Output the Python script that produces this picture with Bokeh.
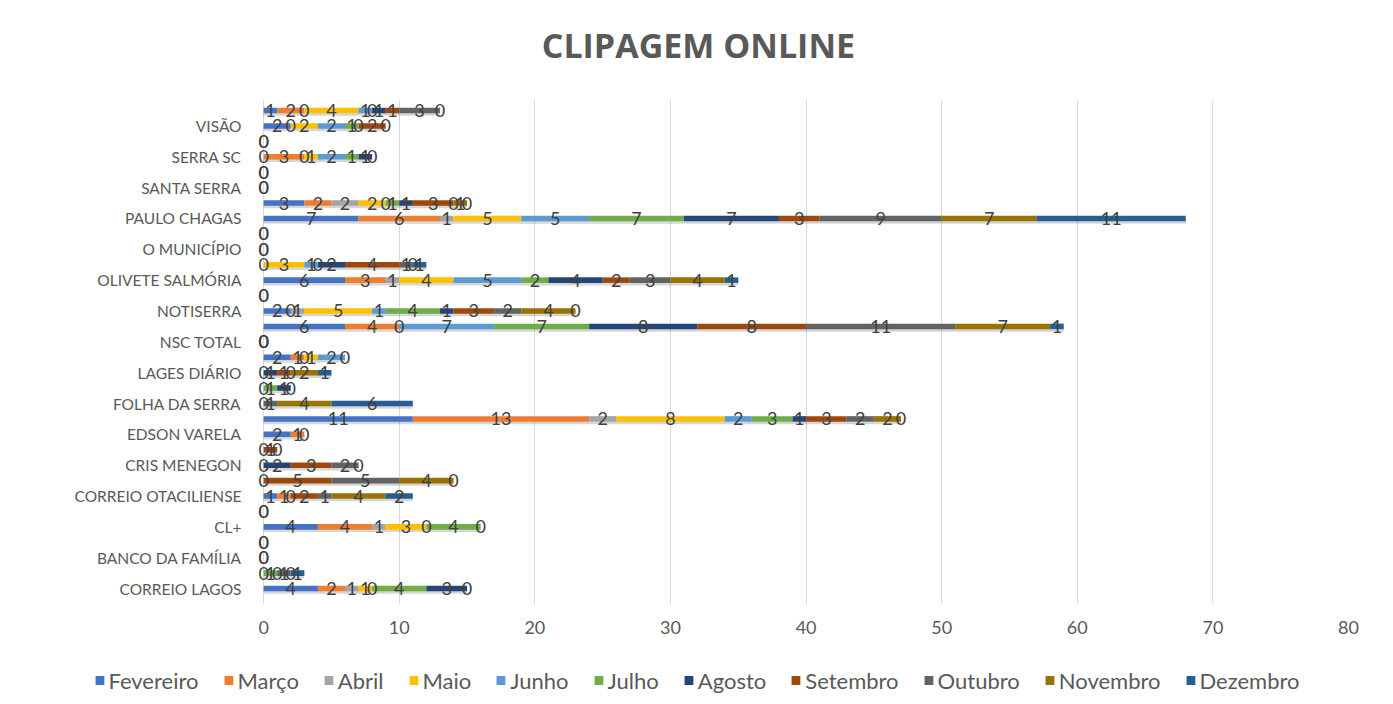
import numpy as np
from bokeh.plotting import figure
from bokeh.layouts import column
from bokeh.models import ColumnDataSource, FixedTicker, Range1d, Legend, LegendItem, Label
from bokeh.embed import file_html
from bokeh.resources import INLINE
from bokeh.core.properties import value

N = None  # blank cell (no data label)

# 32 categories, bottom to top; only every other name is shown on the axis
category_labels = [
    "CORREIO LAGOS", "", "BANCO DA FAMÍLIA", "", "CL+", "", "CORREIO OTACILIENSE", "",
    "CRIS MENEGON", "", "EDSON VARELA", "", "FOLHA DA SERRA", "", "LAGES DIÁRIO", "",
    "NSC TOTAL", "", "NOTISERRA", "", "OLIVETE SALMÓRIA", "", "O MUNICÍPIO", "",
    "PAULO CHAGAS", "", "SANTA SERRA", "", "SERRA SC", "", "VISÃO", "",
]

months = ["Fevereiro", "Março", "Abril", "Maio", "Junho", "Julho",
          "Agosto", "Setembro", "Outubro", "Novembro", "Dezembro"]

fevereiro = [4, 0, N, N, 4, N, 1, N, N, N, 2, 11, N, N, N, 2, N, 6, 2, N, 6, N, N, N, 7, 3, N, N, 0, N, 2, 1]
marco     = [2, N, N, N, 4, N, 1, N, N, N, 1, 13, N, N, N, 1, N, 4, 0, N, 3, N, N, N, 6, 2, N, N, 3, N, 0, 2]
abril     = [1, N, N, N, 1, N, 0, N, N, N, 0, 2, N, N, N, 0, N, 0, 1, N, 1, 0, N, N, 1, 2, N, N, 0, N, N, 0]
maio      = [1, N, N, N, 3, N, N, N, N, N, N, 8, N, N, N, 1, N, N, 5, 0, 4, 3, N, N, 5, 2, N, N, 1, N, 2, 4]
junho     = [0, N, N, N, 0, N, N, N, N, N, N, 2, N, 0, N, 2, N, 7, 1, 0, 5, 1, 0, N, 5, 0, N, N, 2, N, 2, 1]
julho     = [4, 1, N, N, 4, 0, N, N, 0, N, N, 3, N, 1, 0, 0, 0, 7, 4, N, 2, 0, 0, N, 7, 1, N, N, 1, N, 1, 0]
agosto    = [3, 0, N, N, 0, 0, N, 0, 2, 0, N, 1, N, 1, 1, N, N, 8, 1, N, 4, 2, N, 0, 7, 1, N, 0, 1, 0, 0, 1]
setembro  = [0, N, 0, N, N, N, 2, 5, 3, 1, N, 3, 0, 0, 1, N, N, 8, 3, N, 2, 4, N, 0, 3, 3, 0, 0, 0, 0, 2, 1]
outubro   = [N, 1, 0, N, N, N, 1, 5, 2, 0, N, 2, 1, N, 0, N, 0, 11, 2, N, 3, 1, N, N, 9, 0, 0, N, N, N, 0, 3]
novembro  = [N, 0, N, 0, N, N, 4, 4, 0, N, N, 2, 4, N, 2, N, 0, 7, 4, N, 4, 0, N, N, 7, 1, N, N, N, N, N, 0]
dezembro  = [N, 1, N, 0, N, N, 2, 0, N, N, N, 0, 6, N, 1, N, N, 1, 0, N, 1, 1, N, N, 11, 0, N, N, N, N, N, N]

series = [fevereiro, marco, abril, maio, junho, julho, agosto, setembro, outubro, novembro, dezembro]
colors = ["#4472C4", "#ED7D31", "#A5A5A5", "#FFC000", "#5B9BD5", "#70AD47",
          "#264478", "#9E480E", "#636363", "#997300", "#255E91"]

x_ticks = [0, 10, 20, 30, 40, 50, 60, 70, 80]
title_text = "CLIPAGEM ONLINE"

FONT = "Lato"
TXT = "#595959"

n = len(category_labels)
rows = np.arange(n)


def bare(fig):
    fig.outline_line_color = None
    fig.xgrid.visible = False
    fig.ygrid.visible = False
    fig.frame_align = False
    return fig


# ---- title strip
tf = bare(figure(width=1393, height=70, output_backend="svg", toolbar_location=None,
                 x_range=Range1d(0, 1), y_range=Range1d(0, 1), x_axis_type=None, y_axis_type=None,
                 min_border_left=0, min_border_right=0, min_border_top=0, min_border_bottom=0))
tf.add_layout(Label(x=0.501, y=0.36, text=title_text, text_align="center", text_baseline="middle",
                    text_font="Open Sans", text_font_style="bold", text_font_size="34px",
                    text_color=TXT))

# ---- main chart
p = figure(width=1393, height=585, output_backend="svg", toolbar_location=None,
           x_range=Range1d(-0.6, 80), y_range=Range1d(-0.97, 31.65),
           min_border_left=255, min_border_right=45, min_border_top=30, min_border_bottom=52)
p.outline_line_color = None
p.frame_align = False

BAR_H = 0.36

# shadow under the full bars
totals = np.zeros(n)
for s in series:
    totals += np.array([0 if v is None else v for v in s], dtype=float)
p.hbar(y=rows - 0.16, left=0, right=totals, height=BAR_H, fill_color="#000000",
       fill_alpha=0.16, line_color=None)

cum = np.zeros(n)
bar_sources = []
lab_x, lab_y, lab_t = [], [], []
for name, s, c in zip(months, series, colors):
    vals = np.array([0 if v is None else v for v in s], dtype=float)
    left = cum.copy()
    right = cum + vals
    src = ColumnDataSource(dict(y=rows, left=left, right=right))
    bar_sources.append(src)
    p.hbar(y="y", left="left", right="right", height=BAR_H, source=src,
           fill_color=c, line_color=None)
    for i, v in enumerate(s):
        if v is not None:
            lab_x.append((left[i] + right[i]) / 2)
            lab_y.append(i)
            lab_t.append(str(v))
    cum = right

p.text(x=lab_x, y=lab_y, text=lab_t, text_align="center", text_baseline="middle",
       text_font=value(FONT), text_font_size="18px", text_color="#404040")

p.xaxis.ticker = FixedTicker(ticks=x_ticks)
p.yaxis.ticker = FixedTicker(ticks=[i for i in range(n) if category_labels[i]])
p.yaxis.major_label_overrides = {i: category_labels[i] for i in range(n) if category_labels[i]}
for ax in (p.xaxis, p.yaxis):
    ax.axis_line_color = None
    ax.major_tick_line_color = None
    ax.minor_tick_line_color = None
    ax.major_label_text_font = FONT
    ax.major_label_text_color = TXT
p.xaxis.major_label_text_font_size = "18px"
p.yaxis.major_label_text_font_size = "15.5px"
p.xaxis.major_label_standoff = 11
p.yaxis.major_label_standoff = 8

p.xgrid.grid_line_color = "#D9D9D9"
p.ygrid.grid_line_color = None

# ---- legend strip (same bar sources; the strip's y range hides the bars themselves)
lg = bare(figure(width=1393, height=49, output_backend="svg", toolbar_location=None,
                 x_range=Range1d(0, 1), y_range=Range1d(1000, 1001),
                 x_axis_type=None, y_axis_type=None,
                 min_border_left=0, min_border_right=0, min_border_top=0, min_border_bottom=0))
items = []
for name, c, src in zip(months, colors, bar_sources):
    r = lg.hbar(y="y", left="left", right="right", height=BAR_H, source=src,
                fill_color=c, line_color=None)
    items.append(LegendItem(label=name, renderers=[r]))
legend = Legend(items=items, orientation="horizontal", location="center",
                label_text_font=FONT, label_text_font_size="22px", label_text_color=TXT,
                glyph_width=11, glyph_height=11, label_standoff=4, spacing=24,
                padding=0, margin=0, border_line_color=None, background_fill_color=None)
lg.add_layout(legend, "center")

layout = column(tf, p, lg, spacing=0)
open("out.html", "w").write(file_html(layout, INLINE))
